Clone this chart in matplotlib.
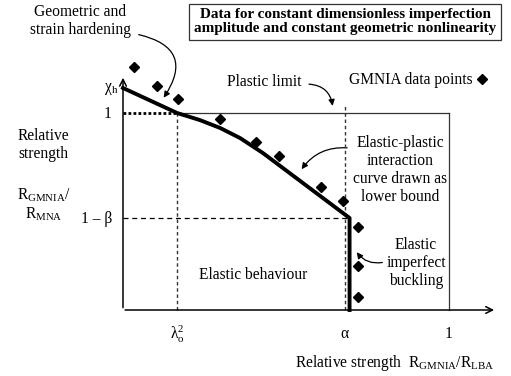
import matplotlib
matplotlib.use("Agg")
import matplotlib.pyplot as plt
from matplotlib.patches import FancyArrowPatch
from matplotlib.lines import Line2D

plt.rcParams['font.family'] = ['Liberation Serif', 'DejaVu Serif']
plt.rcParams['mathtext.fontset'] = 'custom'
plt.rcParams['mathtext.rm'] = 'Liberation Serif'
plt.rcParams['mathtext.it'] = 'Liberation Serif:italic'
plt.rcParams['mathtext.bf'] = 'Liberation Serif:bold'

# Characteristic values on the capacity curve diagram
lambda0_sq = 0.166      # squashing limit of relative slenderness
alpha = 0.68            # elastic imperfection reduction factor
one_minus_beta = 0.467  # plastic range factor
chi_h = 1.127           # hardening limit

# Lower-bound elastic-plastic interaction curve
curve_x = [0.0, 0.166, 0.236, 0.298, 0.359, 0.429, 0.695, 0.695]
curve_y = [1.127, 1.0, 0.964, 0.924, 0.873, 0.797, 0.467, 0.0]

# GMNIA data points
gmnia_x = [0.034, 0.104, 0.169, 0.298, 0.408, 0.479, 0.607, 0.675, 0.721, 0.721, 0.721]
gmnia_y = [1.234, 1.137, 1.071, 0.970, 0.853, 0.782, 0.624, 0.553, 0.421, 0.223, 0.066]

x_ticks = [lambda0_sq, alpha, 1.0]
x_tick_labels = [r'$\mathrm{λ_o^2}$', 'α', '1']

fig = plt.figure(figsize=(5.11, 3.76), dpi=100)
ax = fig.add_axes([0, 0, 1, 1])
ax.set_xlim(-0.3773, 1.1902)
ax.set_ylim(-0.335, 1.5736)
ax.axis('off')

FS = 11.2
k = 'black'

# axes with open arrow heads
ax.annotate('', xy=(0, 1.193), xytext=(0, -0.002),
            arrowprops=dict(arrowstyle='->', lw=1.1, color=k, mutation_scale=12))
ax.annotate('', xy=(1.147, 0), xytext=(-0.002, 0),
            arrowprops=dict(arrowstyle='->', lw=1.1, color=k, mutation_scale=12))

# plastic limit
ax.plot([lambda0_sq, 1.0], [1.0, 1.0], color='#333333', lw=0.9)
ax.plot([1.0, 1.0], [0.0, 1.0], color='#333333', lw=0.9)

# reference lines
ax.plot([0, lambda0_sq], [1.0, 1.0], color=k, lw=2.0, linestyle=(0, (1.0, 0.8)))
ax.plot([lambda0_sq, lambda0_sq], [0, 1.0], color='#333333', lw=1.0, linestyle=(0, (2.5, 2)))
ax.plot([0, curve_x[-1]], [one_minus_beta, one_minus_beta], color=k, lw=0.9,
        linestyle=(0, (4, 3)))
ax.plot([alpha, alpha], [0, 1.04], color='#333333', lw=1.0, linestyle=(0, (2.5, 2)))

# interaction curve and data
ax.plot(curve_x, curve_y, color=k, lw=2.8, solid_joinstyle='round', zorder=5)
ax.plot(gmnia_x, gmnia_y, linestyle='none', marker='D', markersize=5.6,
        color=k, zorder=6)

# tick labels
for xv, lab in zip(x_ticks, x_tick_labels):
    ax.text(xv, -0.122, lab, ha='center', va='center', fontsize=FS)

ax.text(0.834, -0.269, r'Relative strength  $\mathrm{R_{GMNIA}/R_{LBA}}$',
        ha='center', va='center', fontsize=FS)

# y-axis labels
ax.text(-0.015, 1.122, r'$\mathrm{χ_h}$', ha='right', va='center', fontsize=FS)
ax.text(-0.035, 0.995, '1', ha='right', va='center', fontsize=FS)
ax.text(-0.032, 0.462, '1 – β', ha='right', va='center', fontsize=FS)
ax.text(-0.245, 0.838, 'Relative\nstrength', ha='center', va='center',
        fontsize=FS, linespacing=1.15)
ax.text(-0.242, 0.533, r'$\mathrm{R_{GMNIA}}$/' + '\n' + r'$\mathrm{R_{MNA}}$',
        ha='center', va='center', fontsize=FS, linespacing=1.15)

# title box
ax.text(0.681, 1.462,
        'Data for constant dimensionless imperfection\n'
        'amplitude and constant geometric nonlinearity',
        ha='center', va='center', fontsize=10.9, fontweight='bold', linespacing=1.1,
        bbox=dict(boxstyle='square,pad=0.3', fc='white', ec='#333333', lw=0.9))

# annotations
ax.text(-0.132, 1.467, 'Geometric and\nstrain hardening', ha='center', va='center',
        fontsize=FS, linespacing=1.15)
ax.add_patch(FancyArrowPatch((0.040, 1.401), (0.120, 1.066),
                             connectionstyle='arc3,rad=-0.75', arrowstyle='-|>',
                             mutation_scale=9, lw=0.9, color=k))

ax.text(0.433, 1.157, 'Plastic limit', ha='center', va='center', fontsize=FS)
ax.add_patch(FancyArrowPatch((0.562, 1.147), (0.644, 1.022),
                             connectionstyle='arc3,rad=-0.45', arrowstyle='-|>',
                             mutation_scale=9, lw=0.9, color=k))

ax.text(0.850, 0.711, 'Elastic-plastic\ninteraction\ncurve drawn as\nlower bound',
        ha='center', va='center', fontsize=FS, linespacing=1.15)
ax.add_patch(FancyArrowPatch((0.696, 0.822), (0.543, 0.703),
                             connectionstyle='arc3,rad=0.3', arrowstyle='-|>',
                             mutation_scale=9, lw=0.9, color=k))

ax.text(0.899, 0.239, 'Elastic\nimperfect\nbuckling', ha='center', va='center',
        fontsize=FS, linespacing=1.15)
ax.add_patch(FancyArrowPatch((0.804, 0.244), (0.712, 0.305),
                             connectionstyle='arc3,rad=-0.35', arrowstyle='-|>',
                             mutation_scale=9, lw=0.9, color=k, zorder=7))

ax.text(0.399, 0.178, 'Elastic behaviour', ha='center', va='center', fontsize=FS)

# legend for the data points
handle = Line2D([], [], linestyle='none', marker='D', markersize=5.6, color=k)
ax.legend([handle], ['GMNIA data points'], loc='center', bbox_to_anchor=(0.82, 0.787),
          frameon=False, markerfirst=False, fontsize=FS, handletextpad=0.2,
          handlelength=0.8, borderpad=0)

fig.savefig('out.png', dpi=100)
